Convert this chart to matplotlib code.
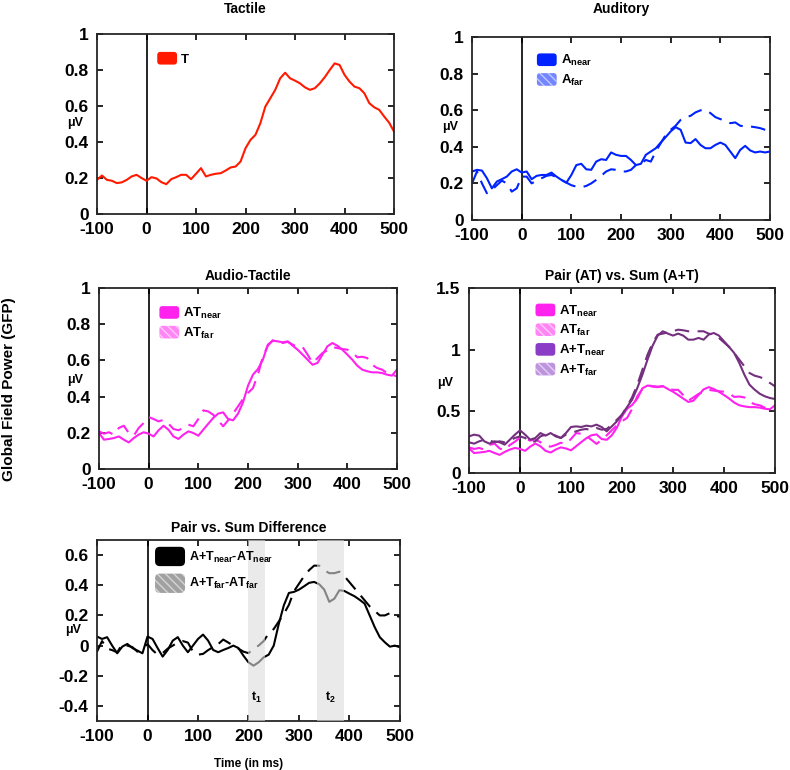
import matplotlib
matplotlib.use('Agg')
import matplotlib.pyplot as plt
from matplotlib.patches import Patch, FancyBboxPatch
from matplotlib.legend_handler import HandlerPatch

plt.rcParams['font.family'] = ['Liberation Sans', 'DejaVu Sans']
plt.rcParams['font.weight'] = 'bold'
plt.rcParams['axes.unicode_minus'] = False
plt.rcParams['mathtext.fontset'] = 'custom'
plt.rcParams['mathtext.bf'] = 'Liberation Sans:bold'
plt.rcParams['mathtext.rm'] = 'Liberation Sans:bold'
plt.rcParams['mathtext.default'] = 'bf'

# time axis (ms), 10 ms steps
time = list(range(-100, 510, 10))

tactile = [0.19, 0.214, 0.19, 0.185, 0.172, 0.176, 0.19, 0.209, 0.218, 0.2,
           0.185, 0.205, 0.198, 0.177, 0.166, 0.194, 0.205, 0.218, 0.218, 0.194,
           0.224, 0.255, 0.209, 0.218, 0.224, 0.227, 0.242, 0.259, 0.264, 0.292,
           0.366, 0.412, 0.44, 0.505, 0.597, 0.643, 0.69, 0.754, 0.785, 0.754,
           0.741, 0.726, 0.704, 0.69, 0.699, 0.726, 0.76, 0.80, 0.837, 0.828,
           0.773, 0.736, 0.708, 0.699, 0.671, 0.616, 0.593, 0.579, 0.542, 0.508,
           0.458]

a_near = [0.265, 0.274, 0.27, 0.228, 0.173, 0.21, 0.223, 0.237, 0.265, 0.277,
          0.259, 0.265, 0.223, 0.241, 0.246, 0.246, 0.259, 0.237, 0.219, 0.204,
          0.246, 0.30, 0.307, 0.277, 0.274, 0.319, 0.332, 0.328, 0.369, 0.356,
          0.35, 0.35, 0.328, 0.30, 0.307, 0.356, 0.374, 0.392, 0.423, 0.453,
          0.484, 0.507, 0.493, 0.423, 0.42, 0.442, 0.41, 0.392, 0.392, 0.41,
          0.423, 0.41, 0.374, 0.338, 0.383, 0.405, 0.38, 0.369, 0.374, 0.369,
          0.374]

a_far = [0.20, 0.265, 0.20, 0.146, 0.164, 0.19, 0.215, 0.20, 0.155, 0.173,
         0.237, 0.237, 0.20, 0.215, 0.228, 0.241, 0.246, 0.234, 0.219, 0.204,
         0.19, 0.182, 0.179, 0.186, 0.20, 0.219, 0.241, 0.265, 0.277, 0.274,
         0.265, 0.265, 0.274, 0.30, 0.307, 0.328, 0.319, 0.374, 0.42, 0.465,
         0.493, 0.515, 0.547, 0.562, 0.569, 0.588, 0.599, 0.602, 0.584, 0.562,
         0.551, 0.544, 0.529, 0.533, 0.515, 0.511, 0.511, 0.507, 0.502, 0.493,
         0.484]

at_near = [0.199, 0.162, 0.166, 0.171, 0.18, 0.162, 0.147, 0.171, 0.19, 0.203,
           0.195, 0.18, 0.214, 0.239, 0.217, 0.18, 0.166, 0.19, 0.208, 0.199,
           0.184, 0.217, 0.25, 0.282, 0.306, 0.313, 0.276, 0.269, 0.306, 0.368,
           0.46, 0.521, 0.552, 0.604, 0.687, 0.709, 0.705, 0.70, 0.705, 0.681,
           0.659, 0.632, 0.604, 0.576, 0.586, 0.632, 0.678, 0.696, 0.681, 0.659,
           0.632, 0.604, 0.571, 0.549, 0.54, 0.534, 0.534, 0.53, 0.521, 0.516,
           0.549]

at_far = [0.208, 0.195, 0.203, 0.19, 0.227, 0.239, 0.199, 0.184, 0.227, 0.254,
          0.287, 0.276, 0.263, 0.272, 0.25, 0.221, 0.214, 0.227, 0.245, 0.236,
          0.276, 0.324, 0.318, 0.30, 0.269, 0.236, 0.269, 0.306, 0.346, 0.387,
          0.42, 0.447, 0.521, 0.622, 0.681, 0.711, 0.70, 0.696, 0.703, 0.687,
          0.674, 0.674, 0.632, 0.586, 0.613, 0.641, 0.656, 0.674, 0.668, 0.663,
          0.659, 0.645, 0.617, 0.62, 0.613, 0.576, 0.558, 0.549, 0.53, 0.521,
          0.512]

sum_near = [0.297, 0.311, 0.303, 0.257, 0.238, 0.257, 0.249, 0.23, 0.27, 0.311,
            0.346, 0.311, 0.27, 0.284, 0.324, 0.303, 0.324, 0.297, 0.284, 0.324,
            0.373, 0.378, 0.373, 0.384, 0.378, 0.392, 0.373, 0.338, 0.378, 0.419,
            0.473, 0.535, 0.595, 0.689, 0.797, 0.919, 1.032, 1.114, 1.149, 1.13,
            1.114, 1.13, 1.114, 1.081, 1.081, 1.095, 1.081, 1.122, 1.135, 1.114,
            1.068, 1.022, 0.973, 0.892, 0.797, 0.716, 0.676, 0.643, 0.622, 0.608,
            0.60]

sum_far = [0.249, 0.238, 0.257, 0.27, 0.265, 0.249, 0.257, 0.249, 0.265, 0.284,
           0.297, 0.284, 0.249, 0.257, 0.297, 0.311, 0.319, 0.303, 0.284, 0.311,
           0.324, 0.338, 0.351, 0.357, 0.346, 0.365, 0.351, 0.357, 0.392, 0.432,
           0.473, 0.541, 0.616, 0.716, 0.838, 0.959, 1.054, 1.122, 1.13, 1.141,
           1.149, 1.162, 1.157, 1.149, 1.149, 1.149, 1.149, 1.13, 1.122, 1.095,
           1.059, 1.022, 0.973, 0.919, 0.865, 0.811, 0.789, 0.778, 0.762, 0.73,
           0.703]

diff_near = [0.06, 0.044, 0.056, 0.0, -0.051, -0.007, 0.011, -0.016, -0.033, -0.051,
             0.06, 0.044, -0.016, -0.073, -0.029, 0.033, 0.056, 0.0, -0.044, 0.0,
             0.044, 0.073, 0.033, -0.029, -0.044, -0.029, -0.016, 0.0, -0.016, -0.067,
             -0.111, -0.133, -0.111, -0.078, -0.06, 0.0, 0.144, 0.267, 0.349, 0.356,
             0.371, 0.393, 0.416, 0.422, 0.407, 0.371, 0.29, 0.311, 0.367, 0.362,
             0.344, 0.327, 0.304, 0.278, 0.20, 0.122, 0.056, 0.022, -0.007, 0.0,
             -0.011]

diff_far = [-0.04, 0.03, -0.02, -0.03, -0.045, 0.01, 0.0, -0.01, -0.04, -0.02,
            0.01, -0.03, -0.06, -0.05, -0.02, 0.0, 0.02, 0.03, 0.02, -0.04,
            -0.06, -0.055, -0.03, -0.01, 0.01, 0.04, 0.02, 0.0, -0.02, -0.04,
            -0.05, -0.02, 0.0, 0.03, 0.08, 0.11, 0.16, 0.21, 0.27, 0.36,
            0.41, 0.46, 0.50, 0.53, 0.53, 0.50, 0.48, 0.48, 0.49, 0.46,
            0.42, 0.38, 0.34, 0.30, 0.26, 0.23, 0.20, 0.20, 0.215, 0.20,
            0.19]

# shaded windows t1, t2
windows = [(200, 232, 't$_1$'), (335, 390, 't$_2$')]

RED = '#ff1a00'
BLUE = '#0022ff'
MAG = '#ff22ee'
PURP = '#74307e'
PURP_PATCH = '#8a3cc6'


class RoundHandler(HandlerPatch):
    def create_artists(self, legend, orig_handle, xdescent, ydescent,
                       width, height, fontsize, trans):
        p = FancyBboxPatch((-xdescent, -ydescent), width, height,
                           boxstyle='round,pad=0,rounding_size=%g' % (height * 0.25))
        self.update_prop(p, orig_handle, legend)
        p.set_transform(trans)
        return [p]


def near_patch(c):
    return Patch(facecolor=c, edgecolor=c, linewidth=0)


def far_patch(c):
    return Patch(facecolor=c, edgecolor='white', hatch='\\\\\\\\', linewidth=0, alpha=0.55)


def style(ax, ylim, yticks, ylabels):
    ax.set_xlim(-100, 500)
    ax.set_ylim(*ylim)
    ax.set_xticks([-100, 0, 100, 200, 300, 400, 500])
    ax.set_yticks(yticks)
    ax.set_yticklabels(ylabels)
    ax.tick_params(direction='in', top=True, right=True, labelsize=12.5,
                   length=4, width=1.2)
    ax.tick_params(axis='x', pad=6)
    ax.tick_params(axis='y', pad=6)
    for s in ax.spines.values():
        s.set_linewidth(1.3)
        s.set_color('#262626')
    ax.axvline(0, color='black', lw=1.2, zorder=1)


def add_legend(ax, handles, labels, anchor, fs=9.5, hl=1.5, hh=1.1, sp=0.35):
    ax.legend(handles, labels, loc='upper left', bbox_to_anchor=anchor,
              frameon=False, fontsize=fs, handlelength=hl, handleheight=hh,
              labelspacing=sp, handletextpad=0.3, borderaxespad=0,
              handler_map={Patch: RoundHandler()})


fig = plt.figure(figsize=(7.9, 7.7), dpi=100)
ax1 = fig.add_axes([0.1228, 0.722, 0.376, 0.2338])
ax2 = fig.add_axes([0.5975, 0.7143, 0.3772, 0.2377])
ax3 = fig.add_axes([0.1253, 0.3909, 0.3772, 0.2351])
ax4 = fig.add_axes([0.5937, 0.3857, 0.3873, 0.2403])
ax5 = fig.add_axes([0.1228, 0.0636, 0.3835, 0.2351])

dash = (7, 4)
lw = 1.5
ticks01 = [0, 0.2, 0.4, 0.6, 0.8, 1]
labels01 = ['0', '0.2', '0.4', '0.6', '0.8', '1']

# Tactile
ax1.plot(time, tactile, color=RED, lw=lw)
style(ax1, (0, 1), ticks01, labels01)
ax1.set_title('Tactile', fontsize=10, fontweight='bold', pad=15)
add_legend(ax1, [near_patch(RED)], ['T'], (0.185, 0.93))

# Auditory
ax2.plot(time, a_near, color=BLUE, lw=lw)
ax2.plot(time, a_far, color=BLUE, lw=lw, dashes=dash)
style(ax2, (0, 1), ticks01, labels01)
ax2.set_title('Auditory', fontsize=10, fontweight='bold', pad=17)
add_legend(ax2, [near_patch(BLUE), far_patch(BLUE)],
           [r'A$_{near}$', r'A$_{far}$'], (0.2, 0.94))

# Audio-Tactile
ax3.plot(time, at_near, color=MAG, lw=lw)
ax3.plot(time, at_far, color=MAG, lw=lw, dashes=dash)
style(ax3, (0, 1), ticks01, labels01)
ax3.set_title('Audio-Tactile', fontsize=10, fontweight='bold', pad=6)
add_legend(ax3, [near_patch(MAG), far_patch(MAG)],
           [r'AT$_{near}$', r'AT$_{far}$'], (0.185, 0.93))

# Pair vs Sum
ax4.plot(time, at_near, color=MAG, lw=lw)
ax4.plot(time, at_far, color=MAG, lw=lw, dashes=dash)
ax4.plot(time, sum_near, color=PURP, lw=lw)
ax4.plot(time, sum_far, color=PURP, lw=lw, dashes=dash)
style(ax4, (0, 1.5), [0, 0.5, 1, 1.5], ['0', '0.5', '1', '1.5'])
ax4.set_title('Pair (AT) vs. Sum (A+T)', fontsize=10, fontweight='bold', pad=6)
add_legend(ax4, [near_patch(MAG), far_patch(MAG), near_patch(PURP_PATCH), far_patch(PURP_PATCH)],
           [r'AT$_{near}$', r'AT$_{far}$', r'A+T$_{near}$', r'A+T$_{far}$'], (0.2, 0.945))

# Difference
ax5.plot(time, diff_near, color='black', lw=lw)
ax5.plot(time, diff_far, color='black', lw=lw, dashes=dash)
for t0, t1, lab in windows:
    ax5.axvspan(t0, t1, color='#dcdcdc', alpha=0.6, lw=0, zorder=3)
    ax5.text((t0 + t1) / 2, -0.345, lab, ha='center', va='center', fontsize=9,
             fontweight='bold', zorder=4)
style(ax5, (-0.5, 0.7), [-0.4, -0.2, 0, 0.2, 0.4, 0.6],
      ['-0.4', '-0.2', '0', '0.2', '0.4', '0.6'])
ax5.set_title('Pair vs. Sum Difference', fontsize=10, fontweight='bold', pad=6)
ax5.set_xlabel('Time (in ms)', fontsize=8.5, fontweight='bold', labelpad=10)
add_legend(ax5, [near_patch('black'), far_patch('#555555')],
           [r'A+T$_{near}$-AT$_{near}$', r'A+T$_{far}$-AT$_{far}$'], (0.175, 0.99),
           fs=9, hl=2.4, hh=2.0, sp=0.6)

# unit labels
for x, y in [(0.095, 0.84), (0.57, 0.835), (0.095, 0.507), (0.563, 0.503), (0.093, 0.182)]:
    fig.text(x, y, 'μV', fontsize=9, fontweight='bold', ha='center', va='center')

fig.text(0.012, 0.495, 'Global Field Power (GFP)', rotation=90, fontsize=11,
         fontweight='bold', ha='center', va='center')

fig.savefig('out.png', dpi=100)
